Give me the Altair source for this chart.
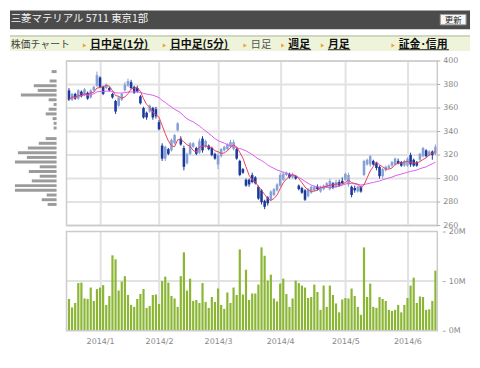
import altair as alt
import pandas as pd

# ---------------- data ----------------
opens = [375, 367, 372, 368, 374, 371, 373, 369, 375, 379,
         386, 378, 377, 377, 372, 366, 362, 367, 375, 379,
         382, 378, 377, 370, 360, 356, 357, 360, 359, 348,
         328, 317, 325, 324, 330, 341, 334, 326, 313, 321,
         327, 326, 322, 334, 327, 328, 326, 321, 312, 319,
         324, 325, 327, 325, 325, 315, 308, 299, 299, 303,
         301, 293, 290, 281, 284, 282, 286, 290, 294, 299,
         303, 304, 301, 302, 294, 292, 290, 285, 288, 290,
         293, 289, 291, 293, 291, 296, 293, 297, 298, 299,
         295, 293, 292, 289, 293, 303, 312, 312, 315, 313,
         310, 302, 307, 309, 311, 312, 315, 314, 311, 311,
         320, 316, 314, 316, 319, 324, 320, 323, 321]
highs = [377, 373, 373, 376, 375, 377, 374, 376, 379, 391,
         387, 379, 381, 378, 373, 367, 370, 373, 382, 385,
         384, 379, 379, 371, 361, 357, 363, 361, 361, 350,
         330, 328, 326, 334, 338, 348, 336, 328, 322, 331,
         331, 327, 334, 336, 333, 329, 327, 322, 322, 326,
         328, 330, 333, 333, 326, 316, 309, 300, 300, 305,
         302, 294, 291, 282, 285, 290, 292, 296, 305, 306,
         306, 305, 305, 303, 295, 293, 291, 292, 294, 294,
         295, 294, 295, 297, 300, 297, 299, 299, 301, 305,
         305, 294, 294, 294, 294, 316, 317, 320, 316, 314,
         311, 309, 311, 312, 315, 318, 317, 315, 316, 318,
         322, 317, 315, 322, 327, 325, 324, 324, 329]
lows = [366, 366, 367, 367, 369, 370, 367, 368, 374, 378,
        377, 371, 376, 374, 368, 355, 361, 366, 374, 378,
        376, 372, 373, 363, 351, 350, 356, 350, 351, 341,
        315, 315, 320, 323, 329, 340, 328, 307, 312, 320,
        326, 320, 321, 322, 326, 324, 319, 316, 308, 318,
        323, 324, 326, 324, 316, 302, 304, 293, 293, 296,
        295, 282, 278, 274, 277, 281, 285, 289, 293, 298,
        302, 300, 300, 299, 290, 287, 281, 284, 287, 289,
        290, 288, 290, 292, 290, 291, 292, 293, 295, 298,
        293, 284, 288, 288, 288, 302, 311, 310, 311, 307,
        300, 300, 306, 308, 310, 311, 312, 310, 310, 310,
        310, 310, 310, 315, 318, 318, 319, 316, 320]
closes = [367, 372, 368, 375, 370, 376, 368, 375, 378, 388,
          378, 372, 380, 375, 369, 357, 369, 372, 380, 383,
          377, 373, 374, 364, 352, 352, 362, 352, 353, 342,
          317, 327, 321, 333, 337, 347, 329, 310, 321, 330,
          330, 321, 332, 324, 332, 325, 320, 317, 320, 325,
          327, 329, 331, 331, 317, 303, 305, 294, 295, 297,
          296, 283, 280, 276, 279, 289, 291, 295, 303, 304,
          305, 301, 303, 300, 291, 288, 282, 291, 293, 293,
          291, 293, 294, 296, 298, 292, 297, 294, 296, 304,
          303, 286, 290, 293, 289, 315, 316, 319, 312, 309,
          302, 308, 310, 311, 314, 317, 313, 311, 315, 317,
          312, 311, 311, 321, 326, 319, 323, 320, 327]
volumes = [6.4, 4.7, 5.6, 9.6, 9.7, 6.5, 6.4, 8.7, 6.0, 8.4,
           8.7, 9.2, 5.2, 7.0, 15.2, 14.4, 8.1, 9.9, 11.0, 7.2,
           5.2, 4.8, 6.4, 7.4, 8.4, 4.6, 5.0, 7.2, 7.3, 5.4,
           10.0, 10.9, 9.7, 7.0, 6.5, 4.8, 11.0, 15.8, 8.1, 10.5,
           6.0, 6.2, 5.6, 9.6, 5.8, 4.6, 6.8, 5.8, 8.5, 5.2,
           4.4, 7.7, 5.6, 8.7, 7.2, 16.4, 7.3, 12.3, 6.2, 7.5,
           7.5, 9.3, 16.8, 15.1, 10.1, 11.3, 6.5, 5.9, 9.5, 10.5,
           7.4, 4.8, 6.5, 10.1, 9.6, 9.1, 8.7, 6.6, 6.8, 9.3,
           7.8, 4.2, 9.1, 4.8, 9.1, 7.2, 5.5, 3.7, 6.3, 6.6,
           6.5, 8.5, 7.0, 4.8, 3.2, 16.8, 6.8, 9.5, 4.8, 4.6,
           6.8, 6.4, 6.0, 4.2, 4.0, 4.2, 5.2, 3.7, 5.2, 6.6,
           9.1, 10.7, 5.6, 6.9, 6.8, 4.2, 4.3, 6.0, 12.1]

month_ticks = [11, 30, 49, 69, 90, 110]
month_labels = ["2014/1", "2014/2", "2014/3", "2014/4", "2014/5", "2014/6"]
price_ticks = [260, 280, 300, 320, 340, 360, 380, 400]
vol_ticks = [0, 10, 20]

profile_prices = [391, 383, 379, 375, 371, 367, 363, 359, 355, 351, 347, 343,
                  334, 330, 326, 322, 318, 314, 310, 306, 302, 298, 294, 290,
                  286, 282, 278]
profile_amounts = [5, 7, 23, 19, 36, 8, 3, 8, 11, 4, 3, 3,
                   11, 18, 29, 39, 30, 42, 17, 28, 17, 25, 42, 42,
                   10, 15, 9]

title_text = "三菱マテリアル 5711 東京1部"
button_text = "更新"
nav_first = "株価チャート"
nav_labels = ["日中足(1分)", "日中足(5分)", "日足", "週足", "月足", "証金･信用"]
nav_is_link = [True, True, False, True, True, True]

# ---------------- frames ----------------
N = len(closes)
df = pd.DataFrame({
    "idx": list(range(1, N + 1)),
    "open": opens, "high": highs, "low": lows, "close": closes, "vol": volumes,
})
df["dir"] = ["up" if c >= o else "down" for o, c in zip(opens, closes)]
prof_df = pd.DataFrame({"price": profile_prices, "amount": profile_amounts})
ptick_df = pd.DataFrame({"p": price_ticks})
vtick_df = pd.DataFrame({"v": vol_ticks})
one = pd.DataFrame({"a": [0]})

FONT = "DejaVu Sans"
JP = "Noto Sans CJK JP"
GRID = "#e2e2e2"
BORDER = "#cccccc"
UP = "#87a1d6"
DOWN = "#1a3a9c"
RED = "#e8405c"
MAG = "#dc5cf0"
GREEN = "#8ab634"
LABEL = "#888888"

X0, X1 = 0.2, 119.6
month_expr = " : ".join(
    f"datum.value == {t} ? '{l}'" for t, l in zip(month_ticks, month_labels)
) + " : ''"

ROW_W = 436          # profile (47) + gap (5) + plot (384)
PX_PER_DAY = (ROW_W - 52) / (X1 - X0)
xscale = alt.Scale(domain=[X0, X1], range=[52, ROW_W], nice=False, zero=False)
yprice_scale = alt.Scale(domain=[260, 400], nice=False, zero=False)
yvol_scale = alt.Scale(domain=[0, 20], nice=False, zero=True)

# ---------------- helpers for the page decoration ----------------
def vrect(x, x2, y, y2, **kw):
    return alt.Chart(one).mark_rect(**kw).encode(
        x=alt.value(x), x2=alt.value(x2), y=alt.value(y), y2=alt.value(y2))

def vtext(txt, x, y, **kw):
    return alt.Chart(one).mark_text(**kw).encode(
        x=alt.value(x), y=alt.value(y), text=alt.value(txt))

def vrule(x, x2, y, **kw):
    return alt.Chart(one).mark_rule(**kw).encode(
        x=alt.value(x), x2=alt.value(x2), y=alt.value(y))

# header
header = alt.layer(
    vrect(0, 464, 0, 19, color="#4b4b4b"),
    vtext(title_text, 0.7, 9, align="left", baseline="middle", font=JP,
          fontSize=10.5, color="#f4f4f4"),
    vrect(434, 460, 4, 14.5, fill="#f6f6f6", stroke="#9a9a9a", strokeWidth=1),
    vtext(button_text, 447, 9.5, align="center", baseline="middle", font=JP,
          fontSize=8.5, color="#222222"),
).properties(width=464, height=19)

# navigation bar
nav_x = [80.7, 161.3, 242.7, 280.7, 320.7, 392]
nav_w = [60, 60, 21, 23, 22.6, 50.7]
nav_layers = [
    vrect(0, 464, 0, 16, color="#eef4d9"),
    vrule(0, 464, 0.75, color="#c5cbb6", strokeWidth=1.5),
    vtext(nav_first, 0.7, 10.3, align="left", baseline="middle", font=JP,
          fontSize=10, color="#444444"),
]
for lab, xx, ww, link in zip(nav_labels, nav_x, nav_w, nav_is_link):
    nav_layers.append(
        alt.Chart(one).mark_point(shape="triangle-right", filled=True,
                                  color="#f0a030", size=16, opacity=1).encode(
            x=alt.value(xx - 5.5), y=alt.value(10.3)))
    nav_layers.append(
        vtext(lab, xx, 10.3, align="left", baseline="middle", font=JP,
              fontSize=11 if link else 10.5,
              fontWeight="bold" if link else "normal",
              color="#111111" if link else "#555555"))
    if link:
        nav_layers.append(vrule(xx, xx + ww, 14.6, color="#222222", strokeWidth=1))
nav = alt.layer(*nav_layers).properties(width=464, height=20)

# ---------------- price row ----------------
base = alt.Chart(df)
cndl_color = alt.Color("dir:N", scale=alt.Scale(domain=["up", "down"], range=[UP, DOWN]),
                       legend=None)

hgrid = alt.Chart(ptick_df).mark_rule(color=GRID, strokeWidth=2).encode(
    x=alt.X(datum=X0, scale=xscale, axis=alt.Axis(values=month_ticks, grid=True, labels=False,
                                                  ticks=False, domain=False, title=None)),
    x2=alt.datum(X1),
    y=alt.Y("p:Q", scale=yprice_scale, axis=None),
)
ptick_marks = alt.Chart(ptick_df).mark_rule(color="#aaaaaa", strokeWidth=1).encode(
    x=alt.datum(X1), x2=alt.datum(X1 + 3 / PX_PER_DAY), y=alt.Y("p:Q", axis=None))
ptick_labels = alt.Chart(ptick_df).mark_text(
    align="left", baseline="middle", dx=6, font=FONT, fontSize=8, color=LABEL
).encode(x=alt.datum(X1), y=alt.Y("p:Q", axis=None), text=alt.Text("p:Q"))

wick = base.mark_rule(strokeWidth=1).encode(
    x="idx:Q", y=alt.Y("low:Q", axis=None), y2="high:Q", color=cndl_color)
body = base.mark_bar(size=2.6).encode(
    x="idx:Q", y=alt.Y("open:Q", axis=None), y2="close:Q", color=cndl_color)
ma25 = base.transform_window(
    ma25="mean(close)", frame=[-24, 0], sort=[alt.SortField("idx")]
).mark_line(color=MAG, strokeWidth=1).encode(x="idx:Q", y=alt.Y("ma25:Q", axis=None))
ma5 = base.transform_window(
    ma5="mean(close)", frame=[-4, 0], sort=[alt.SortField("idx")]
).mark_line(color=RED, strokeWidth=1).encode(x="idx:Q", y=alt.Y("ma5:Q", axis=None))
pborder = alt.Chart(one).mark_rect(fillOpacity=0, stroke=BORDER, strokeWidth=1.5).encode(
    x=alt.datum(X0), x2=alt.datum(X1),
    y=alt.Y(datum=260, axis=None), y2=alt.datum(400))

price_inner = alt.layer(hgrid, wick, body, ma25, ma5, pborder, ptick_marks, ptick_labels)

profile = alt.Chart(prof_df).mark_rule(strokeWidth=3, color="#9b9b9b").encode(
    x=alt.X("amount:Q", scale=alt.Scale(domain=[0, 47], range=[47, 0], nice=False, zero=False),
            axis=None),
    x2=alt.datum(0),
    y=alt.Y("price:Q", axis=None),
)

price_row = alt.layer(price_inner, profile).resolve_scale(x="independent").properties(
    width=ROW_W, height=166)

# ---------------- volume row ----------------
vgrid = alt.Chart(vtick_df).transform_filter("datum.v == 10").mark_rule(
    color=GRID, strokeWidth=2).encode(
    x=alt.X(datum=X0, scale=xscale,
            axis=alt.Axis(values=month_ticks, grid=True, ticks=False, domain=False,
                          title=None, labelExpr=month_expr, labelPadding=7,
                          labelFlush=False, labelOverlap=False)),
    x2=alt.datum(X1),
    y=alt.Y("v:Q", scale=yvol_scale,
            axis=alt.Axis(orient="right", values=vol_ticks, title=None, grid=False,
                          domain=False, tickSize=3, labelPadding=3, labelOverlap=False,
                          labelExpr="datum.value + 'M'")),
)
vbars = alt.Chart(df).mark_bar(size=2.2, color=GREEN).encode(x="idx:Q", y="vol:Q")
vborder = alt.Chart(one).mark_rect(fillOpacity=0, stroke=BORDER, strokeWidth=1.5).encode(
    x=alt.datum(X0), x2=alt.datum(X1), y=alt.datum(0), y2=alt.datum(20))

volume_row = alt.layer(vgrid, vbars, vborder).properties(width=ROW_W, height=100)

chart = alt.vconcat(header, nav, price_row, volume_row, spacing=6, bounds="flush").properties(
    padding=0
).configure_view(
    stroke="transparent"
).configure_axis(
    gridColor=GRID, gridWidth=2, labelFont=FONT, labelFontSize=8,
    labelColor=LABEL, tickColor="#aaaaaa", labelOverlap=False
)

chart.save("out.html", embed_options={"renderer": "svg", "actions": False})
